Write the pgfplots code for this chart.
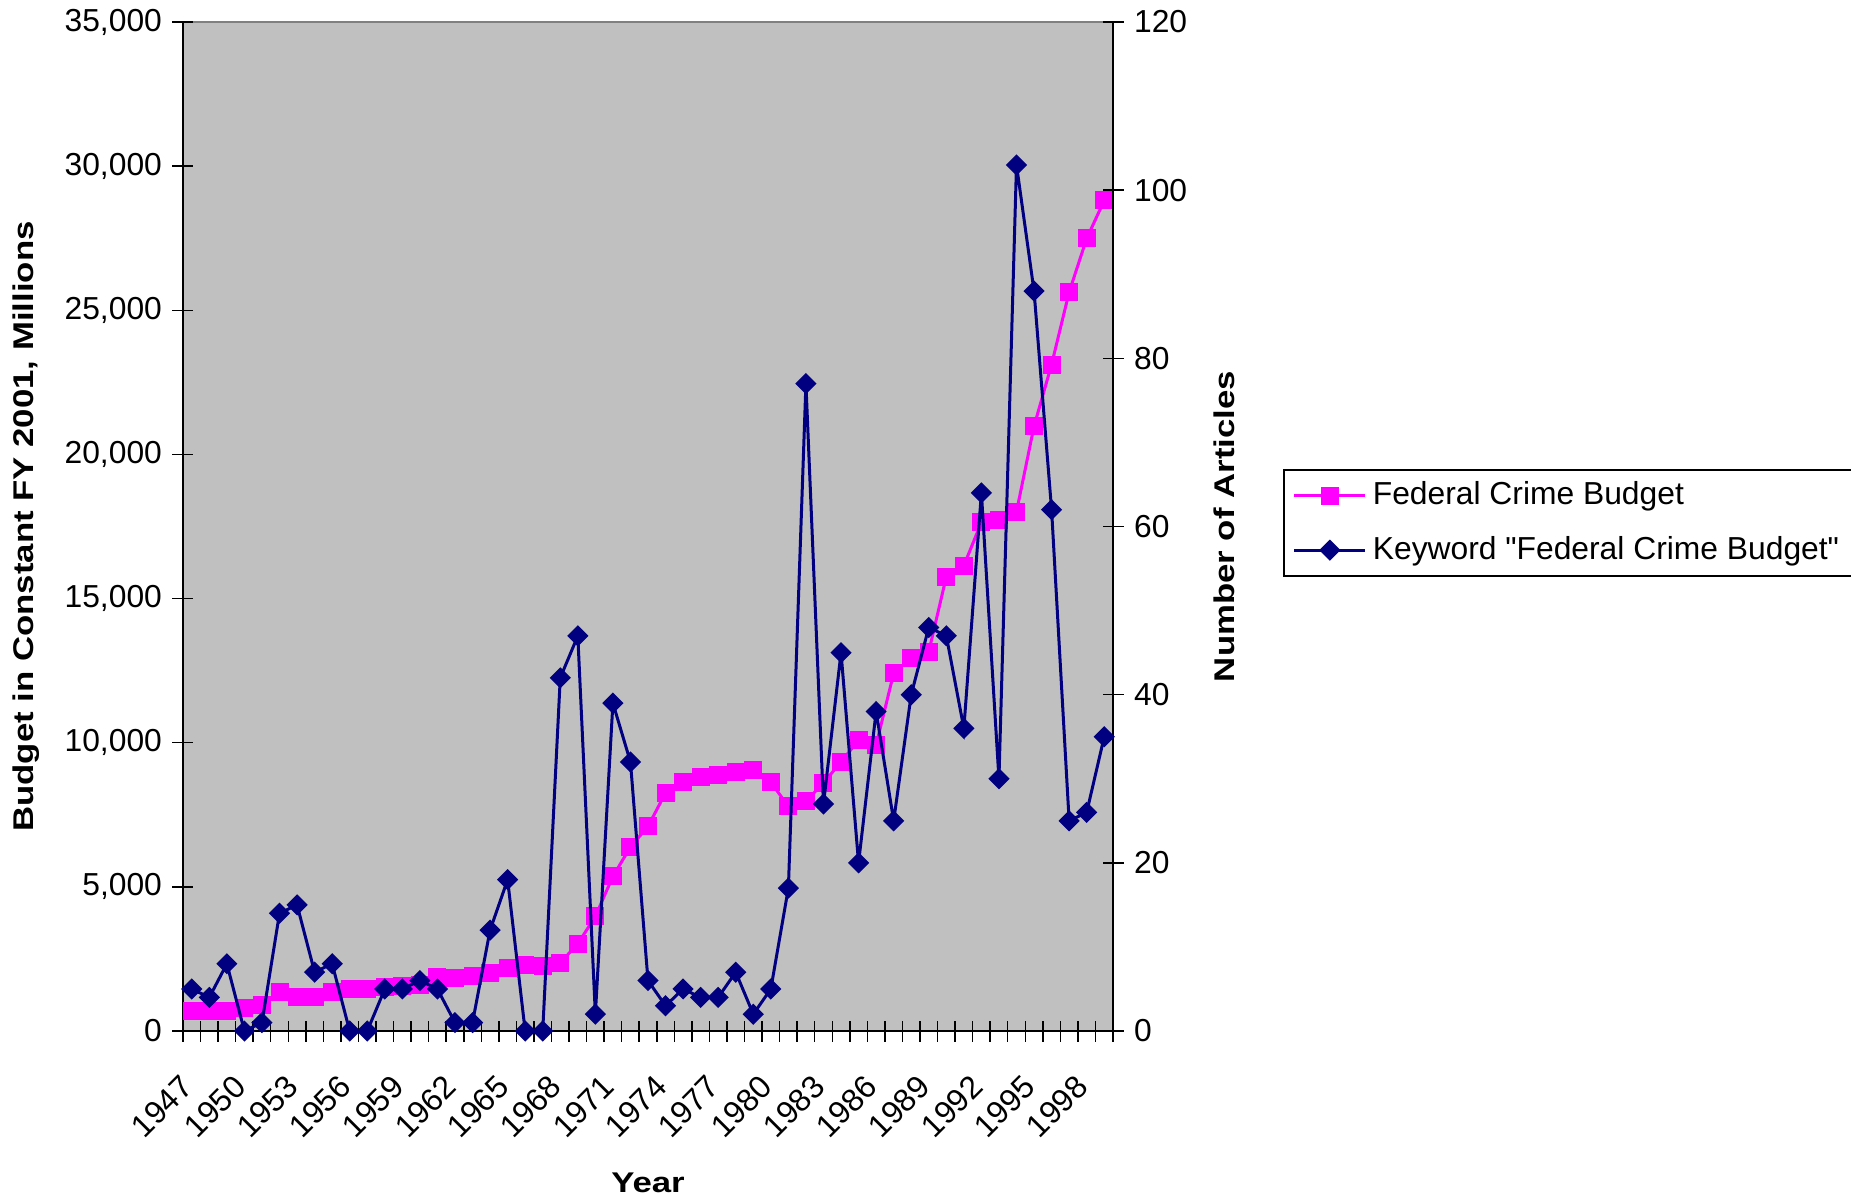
\documentclass[border=0pt]{standalone}
\usepackage{pgfplots}
\pgfplotsset{compat=1.18}
\usepackage{pgfplotstable}
\usepackage{fontspec}
\setmainfont{Liberation Sans}
\newfontfamily\labfont{Liberation Sans}[FakeStretch=1.22]

\definecolor{plotgray}{HTML}{C0C0C0}
\definecolor{frame}{HTML}{808080}
\definecolor{budgetpink}{HTML}{FF00FF}
\definecolor{articlenavy}{HTML}{000080}

% straight double quote, set as a glyph so no quote mapping applies
\newcommand{\dq}{\XeTeXglyph\XeTeXcharglyph"22\relax}

% Federal crime budget (constant FY 2001, millions) and number of articles per year
\pgfplotstableread{
year budget articles
1947 700 5
1948 700 4
1949 700 8
1950 800 0
1951 890 1
1952 1350 14
1953 1165 15
1954 1165 7
1955 1350 8
1956 1457 0
1957 1457 0
1958 1527 5
1959 1550 5
1960 1606 6
1961 1860 5
1962 1850 1
1963 1919 1
1964 2000 12
1965 2186 18
1966 2277 0
1967 2270 0
1968 2370 42
1969 3025 47
1970 3977 2
1971 5365 39
1972 6384 32
1973 7100 6
1974 8258 3
1975 8627 5
1976 8813 4
1977 8893 4
1978 8987 7
1979 9067 2
1980 8627 5
1981 7793 17
1982 7967 77
1983 8605 27
1984 9334 45
1985 10090 20
1986 9920 38
1987 12410 25
1988 12956 40
1989 13155 48
1990 15759 47
1991 16145 36
1992 17646 64
1993 17720 30
1994 18010 103
1995 20979 88
1996 23120 62
1997 25629 25
1998 27492 26
1999 28810 35
}\crimedata

\newcommand{\ticksize}{\fontsize{10.6}{12}\selectfont}
\newcommand{\labsize}{\labfont\fontsize{9.5}{11}\selectfont\bfseries}

\pgfplotsset{
  common/.style={
    scale only axis, width=310pt, height=336.33pt,
    at={(0pt,0pt)}, anchor=south west,
    xmin=-0.5, xmax=52.5,
    clip=false,
    tick align=center, major tick length=7pt, minor tick length=7pt,
    every tick/.style={black, line width=0.5pt},
    axis line style={black, line width=0.75pt},
    tick label style={font=\ticksize},
    /pgf/number format/assume math mode=true,
    scaled y ticks=false,
  },
}

\begin{document}
\begin{tikzpicture}
\path[use as bounding box] (-61pt,-56pt) rectangle (556pt,343.67pt);

\begin{axis}[common,
  axis x line*=bottom, axis y line*=left,
  axis background/.style={fill=plotgray, draw=frame, line width=0.5pt},
  ymin=0, ymax=35000, ytick={0,5000,...,35000},
  yticklabel style={/pgf/number format/1000 sep={,}},
  % one tick mark between neighbouring years, a label every third year
  minor xtick={-0.5,0.5,...,52.5},
  xtick={0,3,...,51},
  xticklabels={1947,1950,1953,1956,1959,1962,1965,1968,1971,1974,1977,1980,1983,1986,1989,1992,1995,1998},
  major x tick style={draw=none},
  xticklabel style={yshift=-10.8pt, xshift=1pt, rotate=45, anchor=east},
  xlabel={Year},
  x label style={at={(axis description cs:0.5,-0.1507)}, anchor=center, font=\labsize},
  ylabel={Budget in Constant FY 2001, Millions},
  y label style={at={(axis description cs:-0.1688,0.5)}, anchor=center, font=\labsize},
]
\addplot[budgetpink, line width=1pt, mark=square*, mark size=2.5pt,
  mark options={solid, fill=budgetpink, draw=budgetpink}]
  table[x expr=\coordindex, y=budget]{\crimedata};
\end{axis}

\begin{axis}[common,
  axis x line=none, axis y line*=right,
  ymin=0, ymax=120, ytick={0,20,...,120},
  ylabel={Number of Articles},
  y label style={at={(axis description cs:1.1194,0.5)}, anchor=center, font=\labsize},
  legend cell align=left,
  legend image code/.code={\draw[mark repeat=2, mark phase=2, #1]
    plot coordinates {(0pt,0pt) (11.85pt,0pt) (23.7pt,0pt)};},
  legend style={at={(axis description cs:1.1828,0.5569)}, anchor=north west,
    draw=black, line width=0.5pt, fill=white, font=\ticksize,
    inner xsep=3pt, inner ysep=2pt, row sep=5pt},
]
\addlegendimage{budgetpink, line width=1pt, mark=square*, mark size=2.5pt,
  mark options={solid, fill=budgetpink, draw=budgetpink}}
\addlegendentry{Federal Crime Budget}
\addplot[articlenavy, line width=1pt, mark=square*, mark size=2pt,
  mark options={solid, rotate=45, fill=articlenavy, draw=articlenavy}]
  table[x expr=\coordindex, y=articles]{\crimedata};
\addlegendentry{Keyword \dq Federal Crime Budget\dq}
\end{axis}
\end{tikzpicture}
\end{document}
